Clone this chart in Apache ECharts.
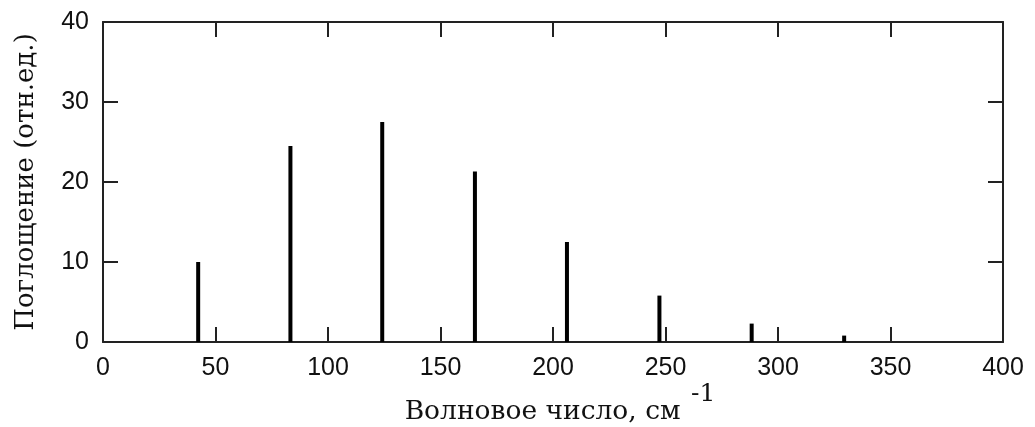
<!DOCTYPE html>
<html>
<head>
<meta charset="utf-8">
<script src="https://cdn.jsdelivr.net/npm/echarts@6/dist/echarts.min.js"></script>
<style>
html,body{margin:0;padding:0;background:#fff;}
#chart{width:1035px;height:427px;}
</style>
</head>
<body>
<div id="chart"></div>
<script>
// Data
const wavenumbers = [42.3, 83.3, 124.1, 165.3, 206.2, 247.3, 288.3, 329.4];
const absorption  = [10.0, 24.5, 27.5, 21.3, 12.5, 5.8, 2.3, 0.8];
const xTicks = [0, 50, 100, 150, 200, 250, 300, 350, 400];
const yTicks = [0, 10, 20, 30, 40];
const xTitle = 'Волновое число, см';
const xTitleSup = '-1';
const yTitle = 'Поглощение (отн.ед.)';

const points = wavenumbers.map((w, i) => [w, absorption[i]]);

const titleFont = 'DejaVu Serif';
const tickFont = 'Liberation Sans';
const frameColor = '#222';

const chart = echarts.init(document.getElementById('chart'), null, {renderer: 'canvas'});

const xBase = {
  type: 'value',
  min: xTicks[0],
  max: xTicks[xTicks.length - 1],
  interval: xTicks[1] - xTicks[0],
  splitLine: {show: false},
  axisLine: {show: true, onZero: false, lineStyle: {color: frameColor, width: 2}},
  axisTick: {show: true, inside: true, length: 15, lineStyle: {color: frameColor, width: 2}}
};
const yBase = {
  type: 'value',
  min: yTicks[0],
  max: yTicks[yTicks.length - 1],
  interval: yTicks[1] - yTicks[0],
  splitLine: {show: false},
  axisLine: {show: true, onZero: false, lineStyle: {color: frameColor, width: 2}},
  axisTick: {show: true, inside: true, length: 15, lineStyle: {color: frameColor, width: 2}}
};

chart.setOption({
  animation: false,
  backgroundColor: '#fff',
  grid: {left: 103, right: 32, top: 22, bottom: 85, containLabel: false, outerBoundsMode: 'none'},
  xAxis: [
    Object.assign({}, xBase, {
      position: 'bottom',
      axisLabel: {show: true, margin: 14, color: '#111', fontFamily: tickFont, fontSize: 25},
      name: xTitle + ' {sup|' + xTitleSup + '}',
      nameLocation: 'middle',
      nameGap: 40,
      nameMoveOverlap: false,
      nameTextStyle: {
        color: '#111', fontFamily: titleFont, fontSize: 26.5,
        padding: [0, 0, 0, 14],
        rich: {
          sup: {fontFamily: titleFont, fontSize: 25, color: '#111', padding: [0, 0, 36, 2]}
        }
      }
    }),
    Object.assign({}, xBase, {
      position: 'top',
      axisLabel: {show: false}
    })
  ],
  yAxis: [
    Object.assign({}, yBase, {
      position: 'left',
      axisLabel: {show: true, margin: 14, color: '#111', fontFamily: tickFont, fontSize: 25},
      name: yTitle,
      nameLocation: 'middle',
      nameGap: 64,
      nameMoveOverlap: false,
      nameTextStyle: {color: '#111', fontFamily: titleFont, fontSize: 26}
    }),
    Object.assign({}, yBase, {
      position: 'right',
      axisLabel: {show: false}
    })
  ],
  series: [{
    type: 'bar',
    xAxisIndex: 0,
    yAxisIndex: 0,
    data: points,
    barWidth: 4,
    itemStyle: {color: '#000'},
    silent: true
  }]
});
</script>
</body>
</html>
